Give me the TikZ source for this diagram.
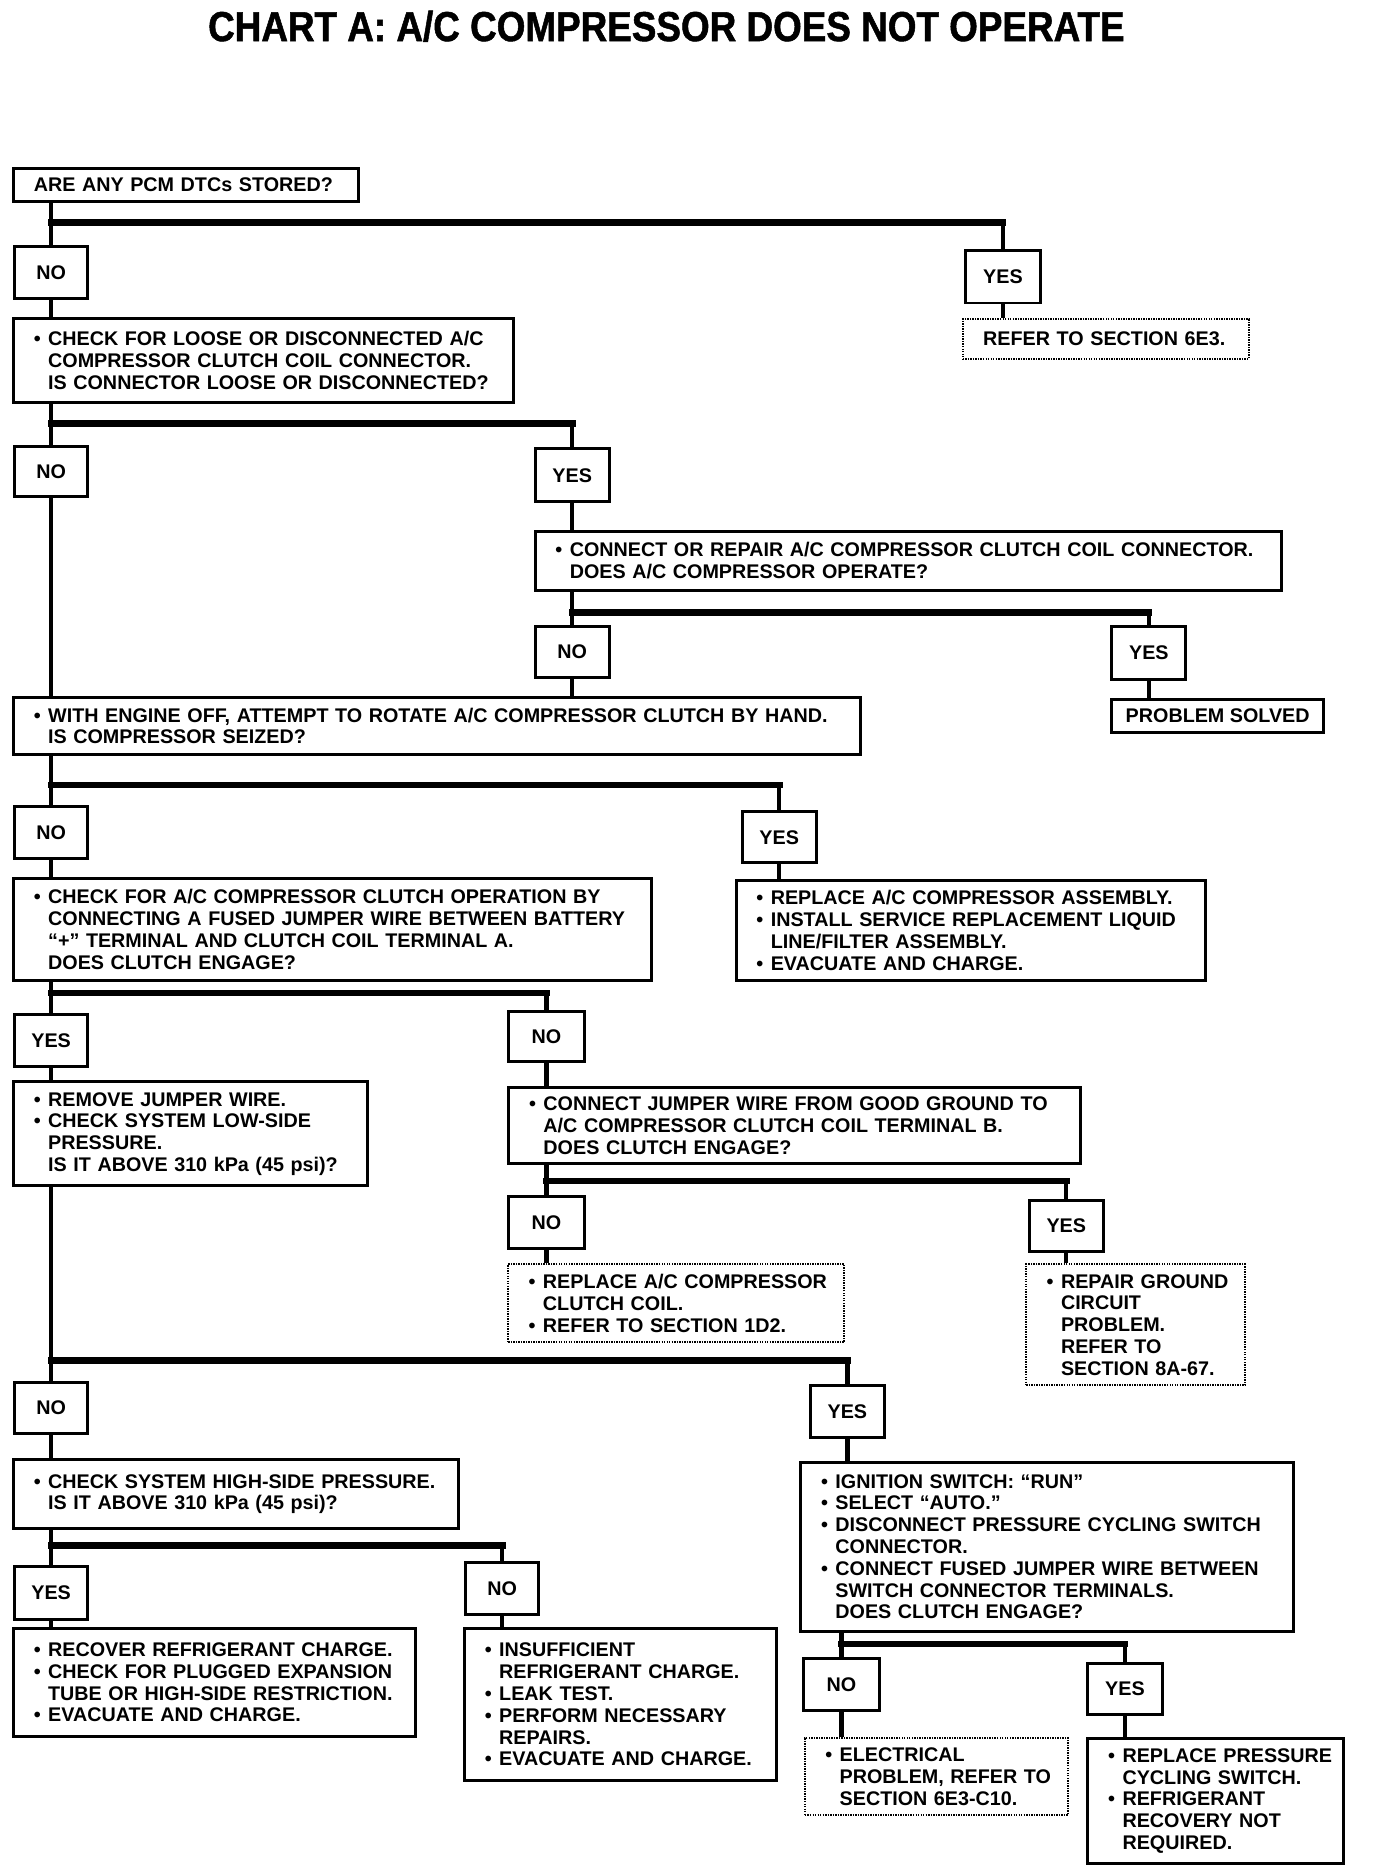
\documentclass[tikz,border=0pt]{standalone}
\usepackage{fontspec}
\setmainfont{Liberation Sans}
\newfontfamily\headfont[FakeStretch=0.88,FakeBold=1.2]{Liberation Sans}
\newcommand\titlefont{\headfont\bfseries\fontsize{35}{40}\selectfont}
\newcommand\boxfont{\fontsize{16.5}{18.2}\selectfont\bfseries}
\newcommand\bul[1]{\mbox{\makebox[12pt][l]{\textbullet}#1}}
\newcommand\cnt[1]{\mbox{\hspace*{12pt}#1}}
\newcommand\lne[1]{\mbox{#1}}
\begin{document}
\begin{tikzpicture}[x=1pt,y=-1pt,
	ans/.style={draw, line width=2.5pt, anchor=north west, font=\boxfont, inner sep=0pt},
	qbox/.style={draw, line width=2.5pt, anchor=north west, align=left, font=\boxfont, inner xsep=17pt, inner ysep=2pt},
	refbox/.style={qbox, line width=1.6pt, dash pattern=on 1.2pt off 0.9pt},
	wire/.style={line width=3.6pt},
	bar/.style={line width=5.6pt, line cap=rect}]
	\useasboundingbox (0,0) rectangle (1150,1568);
	\node (title) at (557, 22)	[font=\titlefont]	{CHART A: A/C COMPRESSOR DOES NOT OPERATE};
	% first question
	\node (q1) at (10, 140)	[qbox, minimum width=288pt, minimum height=27pt, text width=254pt]	{\lne{ARE ANY PCM DTCs STORED?}};
	\node (no1) at (11, 205)	[ans, minimum width=61pt, minimum height=43pt]	{NO};
	\node (yes1) at (806, 208)	[ans, minimum width=62pt, minimum height=44pt]	{YES};
	\node (ref1) at (804, 266)	[refbox, minimum width=239pt, minimum height=33pt, text width=205pt]	{\lne{REFER TO SECTION 6E3.}};
	\node (q2) at (10, 265)	[qbox, minimum width=418pt, minimum height=70pt, text width=384pt]
		{\bul{CHECK FOR LOOSE OR DISCONNECTED A/C}\\ \cnt{COMPRESSOR CLUTCH COIL CONNECTOR.}\\ \cnt{IS CONNECTOR LOOSE OR DISCONNECTED?}};
	\node (no2) at (11, 372)	[ans, minimum width=61pt, minimum height=42pt]	{NO};
	\node (yes2) at (446, 374)	[ans, minimum width=62pt, minimum height=44pt]	{YES};
	\node (q3) at (446, 443)	[qbox, minimum width=624pt, minimum height=49pt, text width=590pt]
		{\bul{CONNECT OR REPAIR A/C COMPRESSOR CLUTCH COIL CONNECTOR.}\\ \cnt{DOES A/C COMPRESSOR OPERATE?}};
	\node (no3) at (446, 522)	[ans, minimum width=62pt, minimum height=43pt]	{NO};
	\node (yes3) at (928, 522)	[ans, minimum width=62pt, minimum height=45pt]	{YES};
	\node (solved) at (928, 583)	[ans, minimum width=177pt, minimum height=28pt]	{PROBLEM SOLVED};
	\node (q4) at (10, 582)	[qbox, minimum width=708pt, minimum height=47pt, text width=674pt]
		{\bul{WITH ENGINE OFF, ATTEMPT TO ROTATE A/C COMPRESSOR CLUTCH BY HAND.}\\ \cnt{IS COMPRESSOR SEIZED?}};
	\node (no4) at (11, 673)	[ans, minimum width=61pt, minimum height=43pt]	{NO};
	\node (yes4) at (619, 677)	[ans, minimum width=62pt, minimum height=43pt]	{YES};
	\node (q5) at (10, 733)	[qbox, minimum width=533pt, minimum height=85pt, text width=499pt]
		{\bul{CHECK FOR A/C COMPRESSOR CLUTCH OPERATION BY}\\ \cnt{CONNECTING A FUSED JUMPER WIRE BETWEEN BATTERY}\\ \cnt{“+” TERMINAL AND CLUTCH COIL TERMINAL A.}\\ \cnt{DOES CLUTCH ENGAGE?}};
	\node (act4) at (614, 735)	[qbox, minimum width=392pt, minimum height=83pt, text width=358pt]
		{\bul{REPLACE A/C COMPRESSOR ASSEMBLY.}\\ \bul{INSTALL SERVICE REPLACEMENT LIQUID}\\ \cnt{LINE/FILTER ASSEMBLY.}\\ \bul{EVACUATE AND CHARGE.}};
	\node (yes5) at (11, 847)	[ans, minimum width=61pt, minimum height=43pt]	{YES};
	\node (no5) at (424, 844)	[ans, minimum width=63pt, minimum height=42pt]	{NO};
	\node (q6) at (10, 903)	[qbox, minimum width=296pt, minimum height=87pt, text width=262pt]
		{\bul{REMOVE JUMPER WIRE.}\\ \bul{CHECK SYSTEM LOW-SIDE}\\ \cnt{PRESSURE.}\\ \cnt{IS IT ABOVE 310 kPa (45 psi)?}};
	\node (q7) at (424, 908)	[qbox, minimum width=478pt, minimum height=63pt, text width=444pt]
		{\bul{CONNECT JUMPER WIRE FROM GOOD GROUND TO}\\ \cnt{A/C COMPRESSOR CLUTCH COIL TERMINAL B.}\\ \cnt{DOES CLUTCH ENGAGE?}};
	\node (no7) at (424, 999)	[ans, minimum width=63pt, minimum height=43pt]	{NO};
	\node (yes7) at (859, 1002)	[ans, minimum width=62pt, minimum height=43pt]	{YES};
	\node (ref7a) at (424, 1056)	[refbox, minimum width=281pt, minimum height=65pt, text width=247pt]
		{\bul{REPLACE A/C COMPRESSOR}\\ \cnt{CLUTCH COIL.}\\ \bul{REFER TO SECTION 1D2.}};
	\node (ref7b) at (857, 1056)	[refbox, minimum width=183pt, minimum height=101pt, text width=149pt]
		{\bul{REPAIR GROUND}\\ \cnt{CIRCUIT}\\ \cnt{PROBLEM.}\\ \cnt{REFER TO}\\ \cnt{SECTION 8A-67.}};
	\node (no6) at (11, 1154)	[ans, minimum width=61pt, minimum height=43pt]	{NO};
	\node (yes6) at (676, 1157)	[ans, minimum width=62pt, minimum height=43pt]	{YES};
	\node (q8) at (10, 1219)	[qbox, minimum width=372pt, minimum height=57pt, text width=338pt]
		{\bul{CHECK SYSTEM HIGH-SIDE PRESSURE.}\\ \cnt{IS IT ABOVE 310 kPa (45 psi)?}};
	\node (q9) at (668, 1221)	[qbox, minimum width=412pt, minimum height=141pt, text width=378pt]
		{\bul{IGNITION SWITCH: “RUN”}\\ \bul{SELECT “AUTO.”}\\ \bul{DISCONNECT PRESSURE CYCLING SWITCH}\\ \cnt{CONNECTOR.}\\ \bul{CONNECT FUSED JUMPER WIRE BETWEEN}\\ \cnt{SWITCH CONNECTOR TERMINALS.}\\ \cnt{DOES CLUTCH ENGAGE?}};
	\node (yes8) at (11, 1308)	[ans, minimum width=61pt, minimum height=44pt]	{YES};
	\node (no8) at (388, 1305)	[ans, minimum width=61pt, minimum height=43pt]	{NO};
	\node (act8a) at (10, 1360)	[qbox, minimum width=336pt, minimum height=90pt, text width=302pt]
		{\bul{RECOVER REFRIGERANT CHARGE.}\\ \bul{CHECK FOR PLUGGED EXPANSION}\\ \cnt{TUBE OR HIGH-SIDE RESTRICTION.}\\ \bul{EVACUATE AND CHARGE.}};
	\node (act8b) at (387, 1360)	[qbox, minimum width=261pt, minimum height=127pt, text width=227pt]
		{\bul{INSUFFICIENT}\\ \cnt{REFRIGERANT CHARGE.}\\ \bul{LEAK TEST.}\\ \bul{PERFORM NECESSARY}\\ \cnt{REPAIRS.}\\ \bul{EVACUATE AND CHARGE.}};
	\node (no9) at (670, 1385)	[ans, minimum width=64pt, minimum height=43pt]	{NO};
	\node (yes9) at (908, 1389)	[ans, minimum width=62pt, minimum height=43pt]	{YES};
	\node (ref9) at (672, 1452)	[refbox, minimum width=220pt, minimum height=64pt, text width=186pt]
		{\bul{ELECTRICAL}\\ \cnt{PROBLEM, REFER TO}\\ \cnt{SECTION 6E3-C10.}};
	\node (act9) at (908, 1452)	[qbox, minimum width=214pt, minimum height=104pt, text width=180pt]
		{\bul{REPLACE PRESSURE}\\ \cnt{CYCLING SWITCH.}\\ \bul{REFRIGERANT}\\ \cnt{RECOVERY NOT}\\ \cnt{REQUIRED.}};
	% branch levels
	\coordinate (b1) at (0, 186);
	\coordinate (b2) at (0, 354);
	\coordinate (b3) at (0, 512);
	\coordinate (b4) at (0, 656);
	\coordinate (b5) at (0, 830);
	\coordinate (b7) at (0, 987);
	\coordinate (b6) at (0, 1137);
	\coordinate (b8) at (0, 1292);
	\coordinate (b9) at (0, 1374);
	% connectors
	\draw[wire] (q1.south -| no1) -- (no1);
	\draw[bar] (b1 -| no1) -- (b1 -| yes1);
	\draw[wire] (b1 -| yes1) -- (yes1);
	\draw[wire] (yes1) -- (yes1 |- ref1.north);
	\draw[wire] (no1) -- (no1 |- q2.north);
	\draw[wire] (q2.south -| no2) -- (no2);
	\draw[bar] (b2 -| no2) -- (b2 -| yes2);
	\draw[wire] (b2 -| yes2) -- (yes2);
	\draw[wire] (yes2) -- (yes2 |- q3.north);
	\draw[wire] (no2) -- (no2 |- q4.north);
	\draw[wire] (q3.south -| no3) -- (no3);
	\draw[bar] (b3 -| no3) -- (b3 -| yes3);
	\draw[wire] (b3 -| yes3) -- (yes3);
	\draw[wire] (yes3) -- (yes3 |- solved.north);
	\draw[wire] (no3) -- (no3 |- q4.north);
	\draw[wire] (q4.south -| no4) -- (no4);
	\draw[bar] (b4 -| no4) -- (b4 -| yes4);
	\draw[wire] (b4 -| yes4) -- (yes4);
	\draw[wire] (yes4) -- (yes4 |- act4.north);
	\draw[wire] (no4) -- (no4 |- q5.north);
	\draw[wire] (q5.south -| yes5) -- (yes5);
	\draw[bar] (b5 -| yes5) -- (b5 -| no5);
	\draw[wire] (b5 -| no5) -- (no5);
	\draw[wire] (no5) -- (no5 |- q7.north);
	\draw[wire] (yes5) -- (yes5 |- q6.north);
	\draw[wire] (q7.south -| no7) -- (no7);
	\draw[bar] (b7 -| no7) -- (b7 -| yes7);
	\draw[wire] (b7 -| yes7) -- (yes7);
	\draw[wire] (no7) -- (no7 |- ref7a.north);
	\draw[wire] (yes7) -- (yes7 |- ref7b.north);
	\draw[wire] (q6.south -| no6) -- (no6);
	\draw[bar] (b6 -| no6) -- (b6 -| yes6);
	\draw[wire] (b6 -| yes6) -- (yes6);
	\draw[wire] (yes6) -- (yes6 |- q9.north);
	\draw[wire] (no6) -- (no6 |- q8.north);
	\draw[wire] (q8.south -| yes8) -- (yes8);
	\draw[bar] (b8 -| yes8) -- (b8 -| no8);
	\draw[wire] (b8 -| no8) -- (no8);
	\draw[wire] (yes8) -- (yes8 |- act8a.north);
	\draw[wire] (no8) -- (no8 |- act8b.north);
	\draw[wire] (q9.south -| no9) -- (no9);
	\draw[bar] (b9 -| no9) -- (b9 -| yes9);
	\draw[wire] (b9 -| yes9) -- (yes9);
	\draw[wire] (no9) -- (no9 |- ref9.north);
	\draw[wire] (yes9) -- (yes9 |- act9.north);
\end{tikzpicture}
\end{document}
